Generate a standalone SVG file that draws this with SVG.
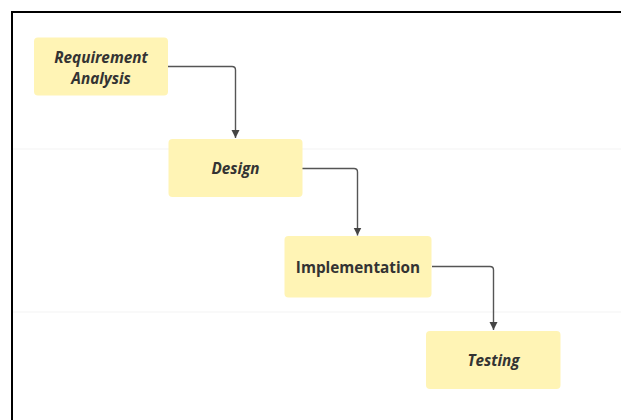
<svg xmlns="http://www.w3.org/2000/svg" width="621" height="420" viewBox="0 0 621 420">
<style>
.node{fill:#FFF4B5;}
.lbl{font-family:"Open Sans","Noto Sans",sans-serif;font-size:15.3px;font-weight:700;fill:#333333;text-anchor:middle;}
.it{font-style:italic;}
.conn{fill:none;stroke:#555555;stroke-width:1.4;}
.lane{stroke:#F3F3F3;stroke-width:1;}
</style>
<defs>
<marker id="arr" markerWidth="10" markerHeight="10" refX="8" refY="5" orient="auto" markerUnits="userSpaceOnUse">
<path d="M0,1 L8,5 L0,9 Z" fill="#444444"/>
</marker>
</defs>
<rect width="621" height="420" fill="#FFFFFF"/>
<line class="lane" x1="13" y1="149" x2="621" y2="149"/>
<line class="lane" x1="13" y1="312" x2="621" y2="312"/>
<path d="M12,420 V12 H621" fill="none" stroke="#000000" stroke-width="2"/>
<g id="connectors">
<path class="conn" d="M168,66.5 H232 Q235.5,66.5 235.5,70 V138" marker-end="url(#arr)"/>
<path class="conn" d="M302,168.5 H354 Q357.5,168.5 357.5,172 V235.5" marker-end="url(#arr)"/>
<path class="conn" d="M432,266.5 H490 Q493.5,266.5 493.5,270 V330" marker-end="url(#arr)"/>
</g>
<g id="requirement">
<rect class="node" x="34" y="37.5" width="134" height="58" rx="4"/>
<text class="lbl it" x="101" y="62.5">Requirement</text>
<text class="lbl it" x="101" y="83.5">Analysis</text>
</g>
<g id="design">
<rect class="node" x="168.5" y="139" width="134" height="58" rx="4"/>
<text class="lbl it" x="235.5" y="174">Design</text>
</g>
<g id="implementation">
<rect class="node" x="284.5" y="236" width="147" height="61.5" rx="4"/>
<text class="lbl" x="358" y="273">Implementation</text>
</g>
<g id="testing">
<rect class="node" x="426" y="331" width="134.5" height="58" rx="4"/>
<text class="lbl it" x="493.5" y="365.5">Testing</text>
</g>
</svg>
